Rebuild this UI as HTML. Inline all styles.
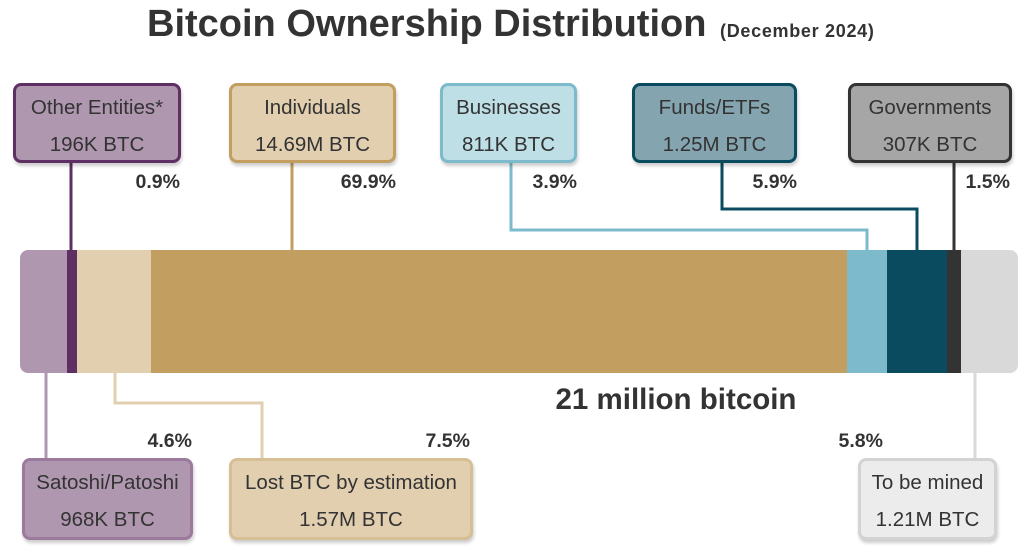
<!DOCTYPE html>
<html><head><meta charset="utf-8"><style>
body{margin:0;width:1024px;height:555px;background:#fff;position:relative;overflow:hidden;font-family:"Liberation Sans",sans-serif;color:#333}
.a{position:absolute}
.box{position:absolute;box-sizing:border-box;border:3px solid;border-radius:8px;text-align:center;font-size:20.5px;line-height:37px;padding-top:3px;box-shadow:1px 3px 3px rgba(0,0,0,.2);color:#333;white-space:nowrap}
.p{position:absolute;font-weight:bold;font-size:19.5px;color:#333;text-align:right;width:80px}
</style></head><body>
<div class="a" style="left:147px;top:3px;font-weight:bold;font-size:38px;color:#333;white-space:nowrap">Bitcoin Ownership Distribution</div>
<div class="a" style="left:720px;top:21px;font-weight:bold;font-size:18px;letter-spacing:0.7px;color:#333;white-space:nowrap">(December 2024)</div>

<svg class="a" style="left:0;top:0" width="1024" height="555">
<g fill="none" stroke-width="3">
<polyline points="71,163 71,250" stroke="#5e2f62"/>
<polyline points="292,163 292,250" stroke="#c39e61"/>
<polyline points="511,163 511,230 867,230 867,250" stroke="#7dbbcc"/>
<polyline points="722,163 722,209 917,209 917,250" stroke="#0b4b60"/>
<polyline points="954,163 954,250" stroke="#333"/>
<polyline points="46,373 46,458" stroke="#b097b0"/>
<polyline points="115,373 115,403 262,403 262,458" stroke="#e2cfb0"/>
<polyline points="975,373 975,458" stroke="#d9d9d9"/>
</g>
<clipPath id="c"><rect x="20" y="250" width="998" height="123" rx="8"/></clipPath>
<g clip-path="url(#c)">
<rect x="20" y="250" width="47" height="123" fill="#b097b0"/>
<rect x="67" y="250" width="10" height="123" fill="#5e2f62"/>
<rect x="77" y="250" width="74" height="123" fill="#e2cfb0"/>
<rect x="151" y="250" width="696" height="123" fill="#c39e61"/>
<rect x="847" y="250" width="40" height="123" fill="#7dbbcc"/>
<rect x="887" y="250" width="60" height="123" fill="#0b4b60"/>
<rect x="947" y="250" width="14" height="123" fill="#333"/>
<rect x="961" y="250" width="57" height="123" fill="#d9d9d9"/>
</g>
</svg>

<div class="box" style="left:13px;top:83px;width:168px;height:80px;background:#b097b0;border-color:#5e2f62">Other Entities*<br>196K BTC</div>
<div class="box" style="left:229px;top:83px;width:167px;height:80px;background:#e2cfb0;border-color:#c39e61">Individuals<br>14.69M BTC</div>
<div class="box" style="left:440px;top:83px;width:137px;height:80px;background:#bfdfe7;border-color:#7dbbcc">Businesses<br>811K BTC</div>
<div class="box" style="left:632px;top:83px;width:165px;height:80px;background:#84a5b0;border-color:#0b4b60">Funds/ETFs<br>1.25M BTC</div>
<div class="box" style="left:848px;top:83px;width:164px;height:80px;background:#a6a6a6;border-color:#333">Governments<br>307K BTC</div>

<div class="p" style="left:100px;top:171px">0.9%</div>
<div class="p" style="left:316px;top:171px">69.9%</div>
<div class="p" style="left:497px;top:171px">3.9%</div>
<div class="p" style="left:717px;top:171px">5.9%</div>
<div class="p" style="left:930px;top:171px">1.5%</div>

<div class="a" style="left:476px;width:400px;text-align:center;top:383px;font-weight:bold;font-size:29.5px;color:#333">21 million bitcoin</div>

<div class="p" style="left:112px;top:430px">4.6%</div>
<div class="p" style="left:390px;top:430px">7.5%</div>
<div class="p" style="left:803px;top:430px">5.8%</div>

<div class="box" style="left:22px;top:458px;width:171px;height:82px;background:#b097b0;border-color:#9b7a9b">Satoshi/Patoshi<br>968K BTC</div>
<div class="box" style="left:229px;top:458px;width:244px;height:82px;background:#e2cfb0;border-color:#d6bf95">Lost BTC by estimation<br>1.57M BTC</div>
<div class="box" style="left:858px;top:458px;width:139px;height:82px;background:#ececec;border-color:#d3d3d3">To be mined<br>1.21M BTC</div>
</body></html>
